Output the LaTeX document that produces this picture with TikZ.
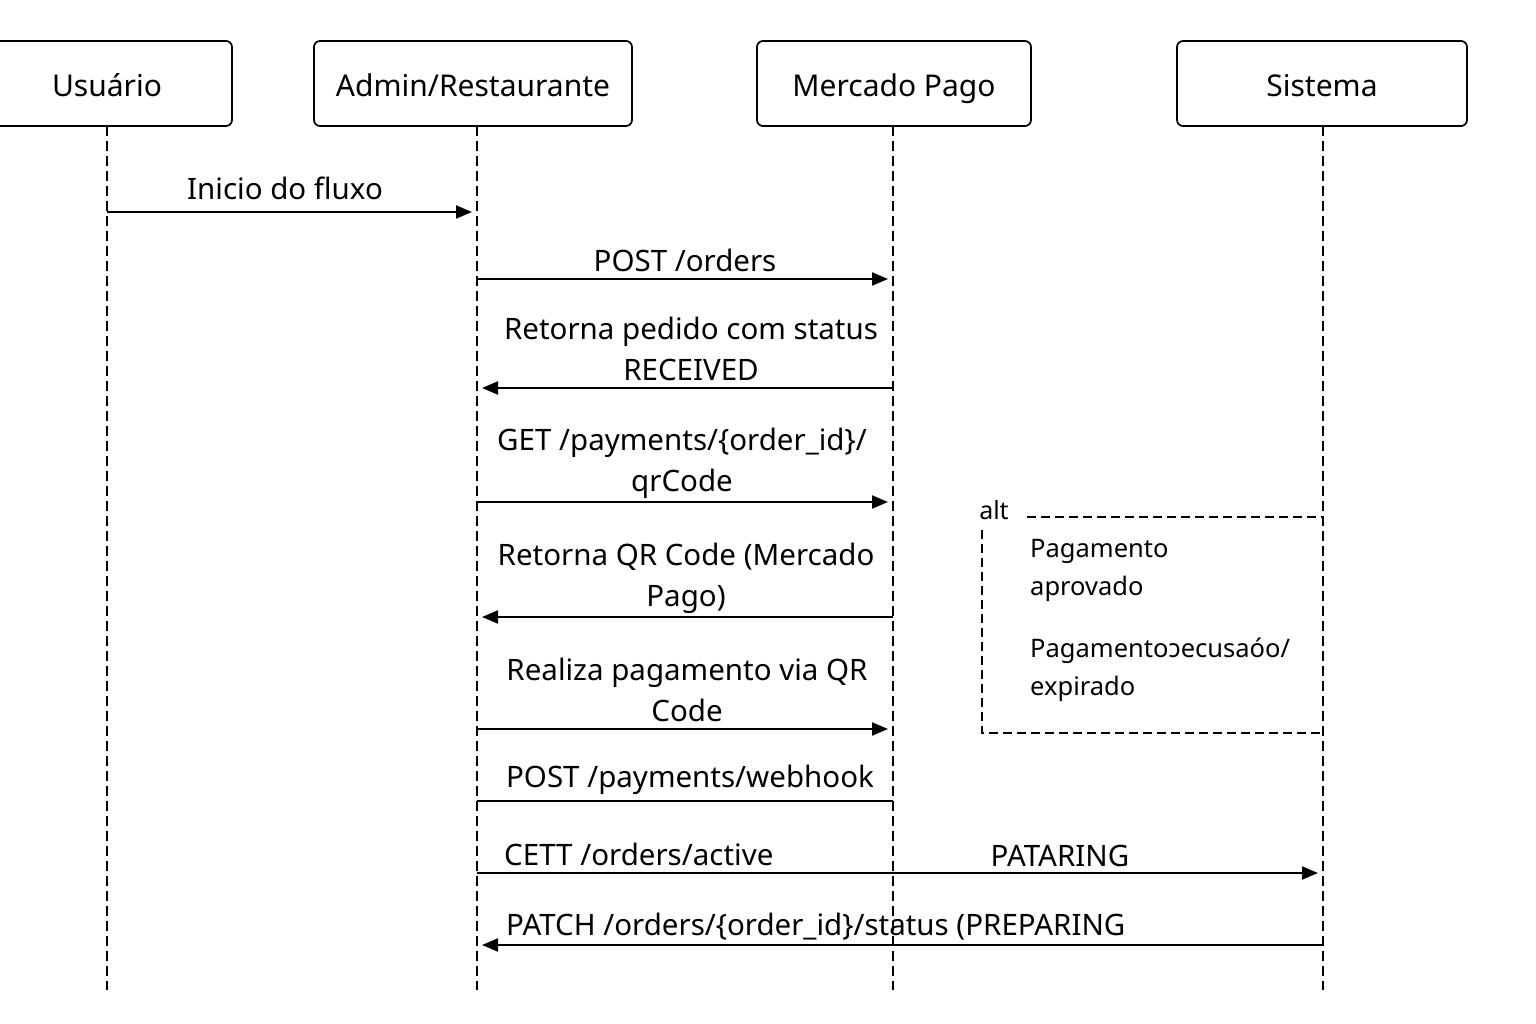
\documentclass[tikz,border=0pt]{standalone}
\usepackage{fontspec}
\setmainfont{Noto Sans}
\usetikzlibrary{arrows.meta}
\begin{document}
\begin{tikzpicture}[x=1pt,y=-1pt,
  actor/.style={draw,line width=1.7pt,rounded corners=6pt,minimum height=85pt,inner sep=0pt,text height=26pt,text depth=0pt,font=\fontsize{30}{36}\selectfont},
  life/.style={dash pattern=on 10pt off 5pt,line width=1.3pt},
  msg/.style={line width=2pt,-{Triangle[length=16pt,width=13pt]},shorten >=5pt},
  plain/.style={line width=2pt},
  lbl/.style={font=\fontsize{29.5}{41}\selectfont,align=center,inner sep=0pt},
  lbll/.style={font=\fontsize{29.5}{41}\selectfont,anchor=west,inner sep=0pt},
  altbox/.style={dash pattern=on 9pt off 5pt,line width=1.3pt},
  alttxt/.style={font=\fontsize{25.5}{38}\selectfont,align=left,anchor=north west,inner sep=0pt}]
\useasboundingbox (0,0) rectangle (1536,1024);
\fill[white] (0,0) rectangle (1536,1024);
% actors
\node[actor,minimum width=250pt] (u) at (107,83.5) {Usuário};
\node[actor,minimum width=318pt] (a) at (473,83.5) {Admin/Restaurante};
\node[actor,minimum width=274pt] (m) at (894,83.5) {Mercado Pago};
\node[actor,minimum width=290pt] (s) at (1322,83.5) {Sistema};
% lifelines
\coordinate (ub) at (107,990);
\coordinate (ab) at (477,990);
\coordinate (mb) at (893,990);
\coordinate (sb) at (1323,990);
\coordinate (ut) at (107,126);
\coordinate (at) at (477,126);
\coordinate (mt) at (893,126);
\coordinate (st) at (1323,126);
\draw[life] (ut) -- (ub);
\draw[life] (at) -- (ab);
\draw[life] (mt) -- (mb);
\draw[life] (st) -- (sb);
% message anchor points
\coordinate (u1) at (107,212); \coordinate (a1) at (477,212);
\coordinate (a2) at (477,279); \coordinate (m2) at (893,279);
\coordinate (m3) at (893,388); \coordinate (a3) at (477,388);
\coordinate (a4) at (477,502); \coordinate (m4) at (893,502);
\coordinate (m5) at (893,617); \coordinate (a5) at (477,617);
\coordinate (a6) at (477,729); \coordinate (m6) at (893,729);
\coordinate (m7) at (893,801); \coordinate (a7) at (477,801);
\coordinate (a8) at (477,873); \coordinate (s8) at (1323,873);
\coordinate (s9) at (1323,945); \coordinate (a9) at (477,945);
% messages
\draw[msg] (u1) -- (a1);
\node[lbl] (t1) at (285,188) {Inicio do fluxo};
\draw[msg] (a2) -- (m2);
\node[lbl] (t2) at (685,260) {POST /orders};
\draw[msg] (m3) -- (a3);
\node[lbl] (t3) at (691,349) {Retorna pedido com status\\RECEIVED};
\draw[msg] (a4) -- (m4);
\node[lbl] (t4) at (682,463) {GET /payments/\{order\_id\}/\\qrCode};
\draw[msg] (m5) -- (a5);
\node[lbl] (t5) at (686,578) {Retorna QR Code (Mercado\\Pago)};
\draw[msg] (a6) -- (m6);
\node[lbl] (t6) at (687,690) {Realiza pagamento via QR\\Code};
\draw[plain] (m7) -- (a7);
\node[lbl] (t7) at (690,780) {POST /payments/webhook};
\draw[msg] (a8) -- (s8);
\node[lbll] (t8a) at (504,854) {CETT /orders/active};
\node[lbl] (t8b) at (1060,856) {PATARING};
\draw[msg] (s9) -- (a9);
\node[lbll] (t9) at (506,927) {PATCH /orders/\{order\_id\}/status (PREPARING};
% alt fragment
\coordinate (alttr) at (1323,517);
\coordinate (alttl) at (1027,517);
\coordinate (altl1) at (982,530);
\coordinate (altbl) at (982,733);
\coordinate (altbr) at (1323,733);
\draw[altbox] (alttl) -- (alttr);
\draw[altbox] (altl1) -- (altbl) -- (altbr);
\node[font=\fontsize{25}{30}\selectfont,inner sep=0pt] (alt) at (994,510) {alt};
\node[alttxt] (g1) at (1030,539) {Pagamento\\aprovado};
\node[alttxt] (g2) at (1030,638) {Pagamentoɔecusaóo/\\expirado};
\end{tikzpicture}
\end{document}
